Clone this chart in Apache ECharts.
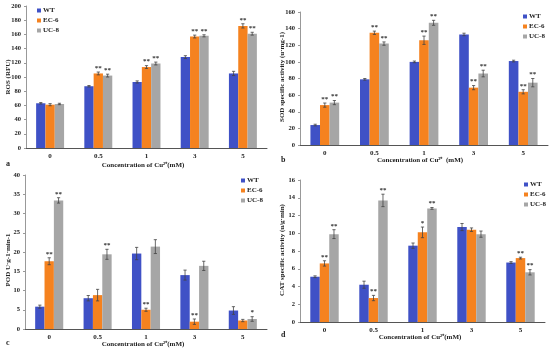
<!DOCTYPE html>
<html><head><meta charset="utf-8">
<script src="https://cdn.jsdelivr.net/npm/echarts@6/dist/echarts.min.js"></script>
<style>html,body{margin:0;padding:0;background:#fff}#c{width:550px;height:349px}</style>
</head><body><div id="c"></div>
<script>
var categories = ['0', '0.5', '1', '3', '5'];
var seriesNames = ['WT', 'EC-6', 'UC-8'];

// a: ROS
var rosWT = [63, 87, 93, 128, 105];
var rosEC = [61, 105, 114, 157, 172];
var rosUC = [62, 102, 119, 158, 161];
var rosErrWT = [1, 1, 1.5, 2, 3];
var rosErrEC = [1.5, 2, 2, 2, 3];
var rosErrUC = [1, 2, 2, 1.5, 2];
var rosStarWT = ['', '', '', '', ''];
var rosStarEC = ['', '**', '**', '**', '**'];
var rosStarUC = ['', '**', '**', '**', '**'];
var rosTicks = [0, 200, 20];

// b: SOD
var sodWT = [24, 79, 100, 133, 101];
var sodEC = [48, 135, 126, 69, 64];
var sodUC = [51, 122, 147, 86, 75];
var sodErrWT = [1, 1, 1, 1.5, 1];
var sodErrEC = [2.5, 2, 5, 2.5, 2.5];
var sodErrUC = [2.5, 2, 3, 4, 5];
var sodStarWT = ['', '', '', '', ''];
var sodStarEC = ['**', '**', '**', '**', '**'];
var sodStarUC = ['**', '**', '**', '**', '**'];
var sodTicks = [0, 160, 20];

// c: POD
var podWT = [5.8, 8.0, 19.6, 14.0, 4.8];
var podEC = [17.6, 8.8, 5.0, 1.9, 2.2];
var podUC = [33.4, 19.4, 21.4, 16.4, 2.6];
var podErrWT = [0.4, 0.7, 1.6, 1.3, 1.0];
var podErrEC = [0.9, 1.5, 0.4, 0.7, 0.3];
var podErrUC = [0.7, 1.3, 1.8, 1.2, 0.6];
var podStarWT = ['', '', '', '', ''];
var podStarEC = ['**', '', '**', '**', ''];
var podStarUC = ['**', '**', '', '', '*'];
var podTicks = [0, 40, 5];

// d: CAT
var catWT = [5.1, 4.2, 8.6, 10.7, 6.7];
var catEC = [6.6, 2.7, 10.1, 10.4, 7.2];
var catUC = [9.9, 13.7, 12.8, 9.9, 5.6];
var catErrWT = [0.1, 0.4, 0.3, 0.4, 0.1];
var catErrEC = [0.3, 0.3, 0.6, 0.2, 0.1];
var catErrUC = [0.5, 0.7, 0.1, 0.35, 0.3];
var catStarWT = ['', '', '', '', ''];
var catStarEC = ['**', '**', '*', '', '**'];
var catStarUC = ['**', '**', '**', '', '**'];
var catTicks = [0, 16, 2];

var colors = ['#3f51c6', '#f5821f', '#a6a6a6'];
var FONT = '"Liberation Serif", "Times New Roman", serif';

var panels = [
  {vals: [rosWT, rosEC, rosUC], errs: [rosErrWT, rosErrEC, rosErrUC], stars: [rosStarWT, rosStarEC, rosStarUC], ticks: rosTicks,
   grid: {left: 26, right: 283, top: 6, bottom: 201}, legend: {left: 37, top: 7},
   yname: 'ROS (RFU)', ynameX: 8, ynameY: 77, xtitle: 'Concentration of Cu\u00B2\u207A(mM)', xtX: 143, xtY: 165, tag: 'a', tagX: 6, tagY: 164},
  {vals: [sodWT, sodEC, sodUC], errs: [sodErrWT, sodErrEC, sodErrUC], stars: [sodStarWT, sodStarEC, sodStarUC], ticks: sodTicks,
   grid: {left: 300, right: 2, top: 12, bottom: 204}, legend: {left: 523, top: 13},
   yname: 'SOD specific activity (u\u00B7mg-1)', ynameX: 282, ynameY: 77, xtitle: 'Concentration of Cu\u00B2\u207A  (mM)', xtX: 420, xtY: 160, tag: 'b', tagX: 281, tagY: 160},
  {vals: [podWT, podEC, podUC], errs: [podErrWT, podErrEC, podErrUC], stars: [podStarWT, podStarEC, podStarUC], ticks: podTicks,
   grid: {left: 25, right: 283, top: 175, bottom: 20}, legend: {left: 241, top: 177},
   yname: 'POD U\u00B7g-1\u00B7min-1', ynameX: 8, ynameY: 260, xtitle: 'Concentration of Cu\u00B2\u207A(mM)', xtX: 143, xtY: 344, tag: 'c', tagX: 6, tagY: 343},
  {vals: [catWT, catEC, catUC], errs: [catErrWT, catErrEC, catErrUC], stars: [catStarWT, catStarEC, catStarUC], ticks: catTicks,
   grid: {left: 300, right: 5, top: 180, bottom: 27}, legend: {left: 524, top: 181},
   yname: 'CAT specific activity (u/g\u00B7min)', ynameX: 282, ynameY: 250, xtitle: 'Concentration of Cu\u00B2\u207A(mM)', xtX: 420, xtY: 337, tag: 'd', tagX: 281, tagY: 335}
];

var GAP = 0.42;
var grids = [], xAxes = [], yAxes = [], series = [], legends = [], graphics = [];

panels.forEach(function (p, pi) {
  grids.push(p.grid);
  xAxes.push({
    type: 'category', gridIndex: pi, data: categories,
    axisLine: {lineStyle: {color: '#555', width: 1}},
    axisTick: {show: false},
    axisLabel: {fontFamily: FONT, fontWeight: 'bold', fontSize: 7, color: '#222', margin: 5}
  });
  yAxes.push({
    type: 'value', gridIndex: pi, min: p.ticks[0], max: p.ticks[1], interval: p.ticks[2],
    axisLine: {show: true, lineStyle: {color: '#999', width: 1}},
    axisTick: {show: true, length: 2, lineStyle: {color: '#999'}},
    splitLine: {show: false},
    axisLabel: {fontFamily: FONT, fontWeight: 'bold', fontSize: 6.5, color: '#222', margin: 5}
  });
  legends.push({
    show: true, orient: 'vertical', left: p.legend.left, top: p.legend.top,
    itemWidth: 4, itemHeight: 4, itemGap: 3, icon: 'rect', padding: 0,
    data: seriesNames,
    textStyle: {fontFamily: FONT, fontWeight: 'bold', fontSize: 7, color: '#222', padding: [0, 0, 0, -3]}
  });
  for (var s = 0; s < 3; s++) {
    series.push({
      name: seriesNames[s], type: 'bar', xAxisIndex: pi, yAxisIndex: pi,
      data: p.vals[s], barGap: '0%', barCategoryGap: (GAP * 100) + '%',
      itemStyle: {color: colors[s]}, animation: false
    });
  }
  for (var s2 = 0; s2 < 3; s2++) {
    (function (s, p) {
      var d = p.vals[s].map(function (v, i) { return [i, v, p.errs[s][i]]; });
      series.push({
        type: 'custom', xAxisIndex: pi, yAxisIndex: pi, data: d, silent: true, animation: false,
        encode: {x: 0, y: 1}, z: 10,
        renderItem: function (params, api) {
          var i = api.value(0), v = api.value(1), e = api.value(2);
          var band = api.size([1, 0])[0];
          var bw = band * (1 - GAP) / 3;
          var c = api.coord([i, v]);
          var x = c[0] + (s - 1) * bw;
          var top = api.coord([i, v + e])[1];
          var bot = api.coord([i, v - e])[1];
          var cap = 1.6;
          var st = {stroke: '#444', lineWidth: 0.8};
          var children = [
            {type: 'line', shape: {x1: x, y1: top, x2: x, y2: bot}, style: st},
            {type: 'line', shape: {x1: x - cap, y1: top, x2: x + cap, y2: top}, style: st},
            {type: 'line', shape: {x1: x - cap, y1: bot, x2: x + cap, y2: bot}, style: st}
          ];
          var star = p.stars[s][i];
          if (star) {
            children.push({type: 'text', style: {text: star, x: x, y: top - 0.5, align: 'center', verticalAlign: 'bottom',
              font: 'bold 7px ' + FONT, fill: '#333'}});
          }
          return {type: 'group', children: children};
        }
      });
    })(s2, p);
  }
  graphics.push({type: 'text', left: p.ynameX - 4, top: p.ynameY, rotation: Math.PI / 2,
    style: {text: p.yname, font: 'bold 7px ' + FONT, fill: '#222', align: 'center', verticalAlign: 'middle'},
    position: [p.ynameX, p.ynameY]});
  graphics.push({type: 'text', position: [p.xtX, p.xtY],
    style: {text: p.xtitle, font: 'bold 7px ' + FONT, fill: '#222', align: 'center', verticalAlign: 'middle'}});
  graphics.push({type: 'text', position: [p.tagX, p.tagY],
    style: {text: p.tag, font: 'bold 8px ' + FONT, fill: '#222', align: 'left', verticalAlign: 'middle'}});
});

// fix graphic rotation elements (use x/y position only)
graphics.forEach(function (g) { delete g.left; delete g.top; });

var chart = echarts.init(document.getElementById('c'), null, {renderer: 'canvas'});
chart.setOption({
  animation: false,
  grid: grids, xAxis: xAxes, yAxis: yAxes, legend: legends, series: series,
  graphic: {elements: graphics}
});
</script></body></html>
